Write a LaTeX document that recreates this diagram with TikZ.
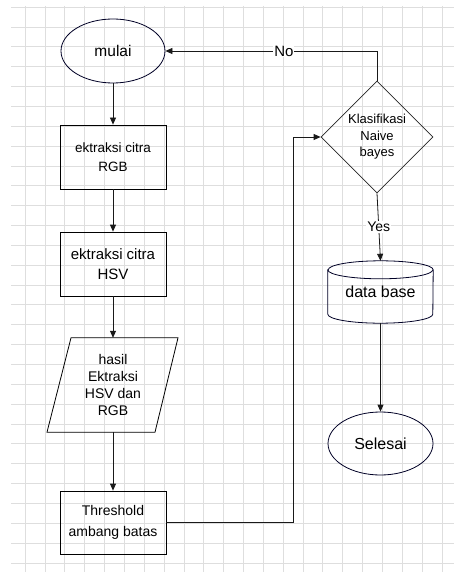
\documentclass[tikz,border=0pt]{standalone}
\usepackage{fontspec}
\setmainfont{Liberation Sans}
\usetikzlibrary{shapes.geometric,arrows.meta}
\begin{document}
\begin{tikzpicture}[x=1pt,y=-1pt,
  gridline/.style={draw=black!13,line width=0.6pt},
  box/.style={draw=black,line width=0.8pt,rectangle,inner sep=0pt,align=center,minimum width=106pt,minimum height=64pt},
  oval/.style={draw=black!85!blue,line width=0.8pt,ellipse,inner sep=0pt,align=center,minimum width=104pt,minimum height=64pt},
  conn/.style={line width=0.8pt,draw=black!90},
  arr/.style={conn,-{Triangle[length=7pt,width=6pt]}},
  lbl/.style={fill=white,inner sep=1pt,font={\fontsize{14}{16}\selectfont}}
]
\useasboundingbox (0,0) rectangle (454,572);
\fill[white] (0,0) rectangle (454,572);
% grid
\foreach \i in {0,...,21} \draw[gridline] ({25+19.85*\i},6) -- ({25+19.85*\i},572);
\foreach \j in {0,...,28} \draw[gridline] (11,{7+19.85*\j}) -- (454,{7+19.85*\j});

% nodes
\node[oval,font={\fontsize{15.5}{18}\selectfont}] (mulai) at (113,51) {mulai};
\node[box,font={\fontsize{13.5}{19}\selectfont}] (rgb) at (113,157) {ektraksi citra\\RGB};
\node[box,font={\fontsize{15}{20}\selectfont}] (hsv) at (113,264) {ektraksi citra\\HSV};
\node[rectangle,inner sep=0pt,align=center,minimum width=107pt,minimum height=94pt,font={\fontsize{14}{17}\selectfont}] (para) at (113,385) {hasil\\Ektraksi\\HSV dan\\RGB};
\draw[line width=0.8pt] ([xshift=-42pt]para.north) -- ([xshift=65pt]para.north) -- ([xshift=42pt]para.south) -- ([xshift=-66pt]para.south) -- cycle;
\node[box,minimum height=63pt,font={\fontsize{14}{21}\selectfont}] (thr) at (113,522.5) {Threshold\\ambang batas};
\node[diamond,draw=black!85,line width=0.8pt,inner sep=0pt,minimum width=112pt,minimum height=112pt,align=center,font={\fontsize{13}{16.5}\selectfont}] (dia) at (377,137) {Klasifikasi\\Naive\\bayes};
\node[rectangle,inner sep=0pt,minimum width=105pt,minimum height=62pt,font={\fontsize{16}{18}\selectfont}] (db) at (380.5,292) {\raisebox{-8pt}{data base}};
\draw[line width=0.8pt,draw=black!85!blue] ([yshift=-9pt]db.north west) -- ([yshift=9pt]db.south west)
  arc[start angle=180,end angle=360,x radius=52.5pt,y radius=9pt]
  -- ([yshift=-9pt]db.north east)
  arc[start angle=0,end angle=180,x radius=52.5pt,y radius=9pt] -- cycle;
\draw[line width=0.8pt,draw=black!85!blue] ([yshift=-9pt]db.north west) arc[start angle=180,end angle=360,x radius=52.5pt,y radius=9pt];
\node[oval,minimum width=105pt,minimum height=63pt,font={\fontsize{16}{18}\selectfont}] (sel) at (380.5,443.5) {Selesai};

% helper coordinates
\coordinate (bx) at (293,0);
\coordinate (topc) at (dia.north |- mulai.east);

% connectors
\draw[arr] (mulai.south) -- (rgb.north);
\draw[arr] (rgb.south) -- (hsv.north);
\draw[arr] (hsv.south) -- (para.north);
\draw[arr] (para.south) -- (thr.north);
\draw[arr] (thr.east) -- (thr.east -| bx) |- (dia.west);
\draw[arr] (dia.north) -- (topc) -- node[lbl,pos=0.44,font={\fontsize{15}{17}\selectfont}] {No} (mulai.east);
\draw[arr] (dia.south) -- node[lbl,pos=0.5] {Yes} (db.north);
\draw[arr] (db.south) -- (sel.north);
\end{tikzpicture}
\end{document}
